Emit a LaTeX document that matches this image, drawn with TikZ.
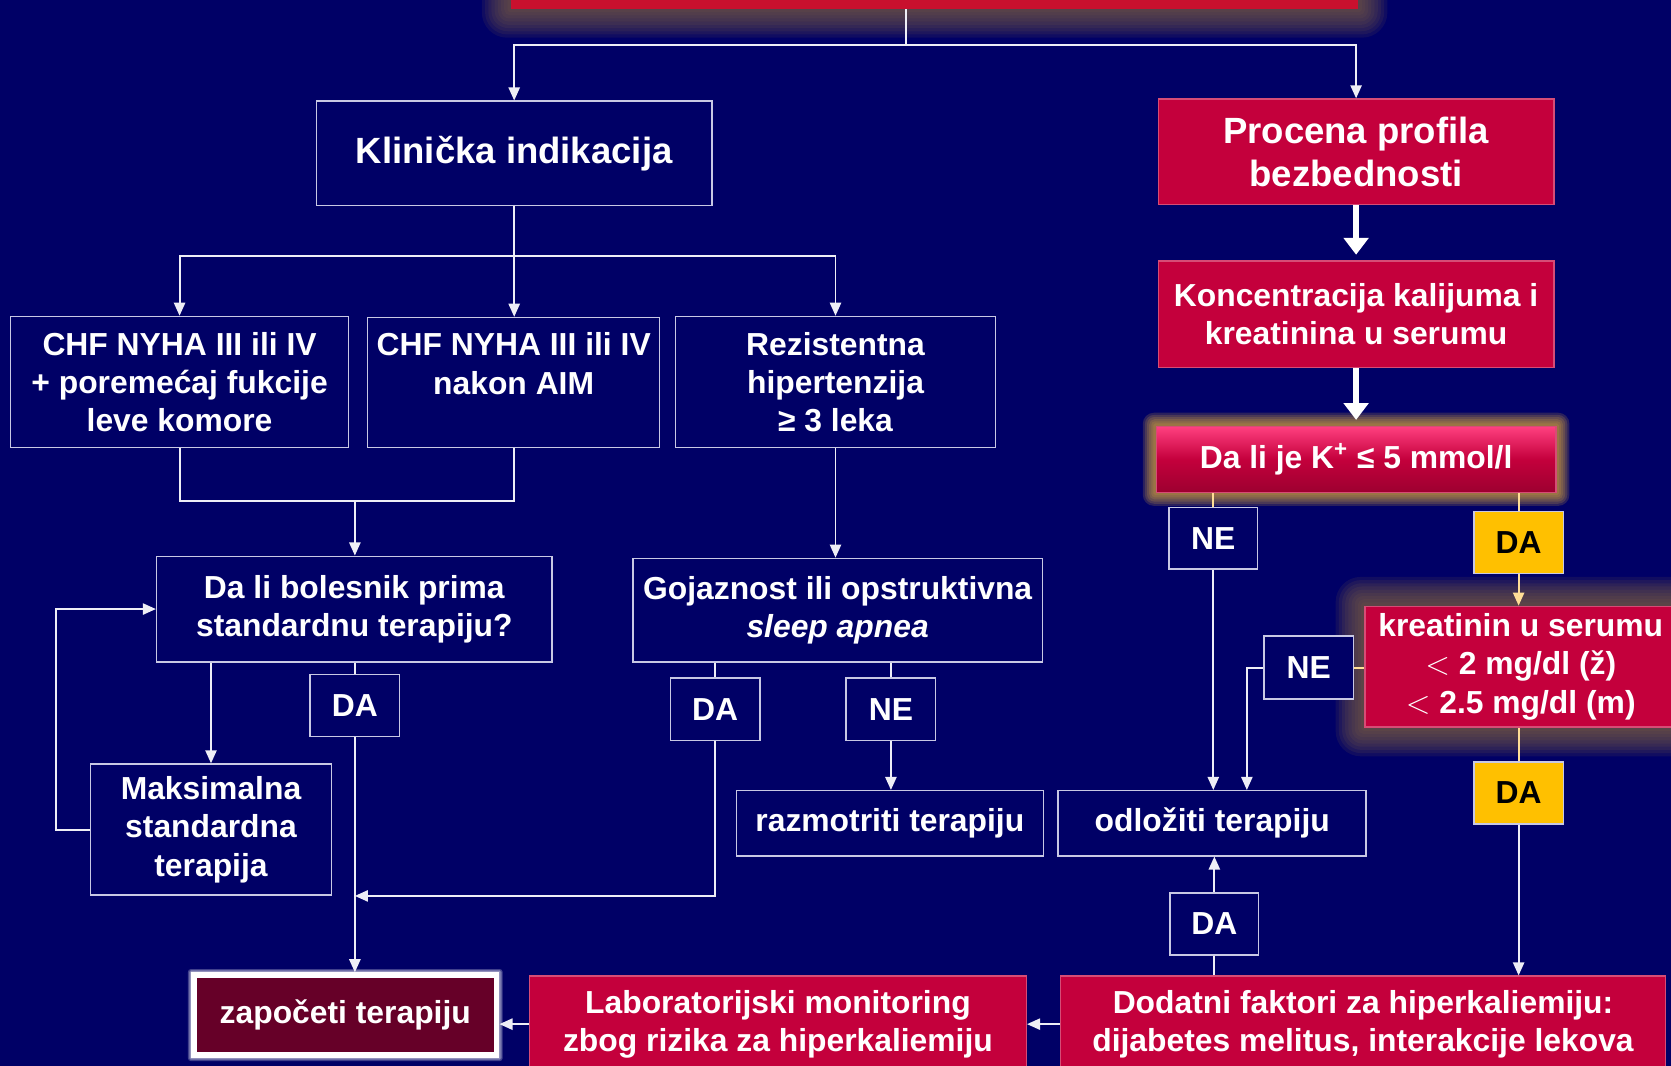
\documentclass[tikz,border=0pt]{standalone}
\usepackage{fontspec}
\setmainfont{Liberation Sans}
\usetikzlibrary{arrows.meta}

\definecolor{bgColor}{RGB}{0,0,102}
\definecolor{boxColor}{RGB}{196,0,60}
\definecolor{titleColor}{RGB}{200,16,46}
\definecolor{lineColor}{RGB}{238,238,246}
\definecolor{frameColor}{RGB}{200,200,228}
\definecolor{goldLine}{RGB}{255,222,150}
\definecolor{yesColor}{RGB}{255,192,0}
\definecolor{startColor}{RGB}{102,0,40}
\definecolor{glowGold}{RGB}{210,160,60}
\definecolor{glowBrown}{RGB}{125,95,65}
\definecolor{pinkTop}{RGB}{255,64,128}

\pgfdeclarelayer{bg}
\pgfsetlayers{bg,main}

\tikzset{
  box/.style={draw=frameColor, line width=0.8pt, fill=bgColor, text=white, align=center,
    inner sep=0pt, font=\bfseries\fontsize{17}{20.5}\selectfont},
  redbox/.style={box, fill=boxColor, draw=boxColor!70!white},
  bigfont/.style={font=\bfseries\fontsize{19.5}{23.3}\selectfont},
  boxdim/.style 2 args={minimum width=#1*0.02cm, minimum height=#2*0.02cm},
  wire/.style={draw=lineColor, line width=1pt},
  arr/.style={wire, -{Triangle[length=7pt,width=6pt]}},
  goldwire/.style={draw=goldLine, line width=1pt},
  goldarr/.style={goldwire, -{Triangle[length=7pt,width=6pt]}},
  bigarr/.style={draw=white, line width=3.5pt, shorten >=3pt, -{Triangle[length=9pt,width=13pt]}},
}

\begin{document}
\begin{tikzpicture}[x=0.02cm, y=-0.02cm]
  \useasboundingbox (0,0) rectangle (1568,1000);
  % Title bar (cut off)
  \node[boxdim={795}{40}, fill=titleColor] (title) at (877,-12) {};
  % Left branch
  \node[box, boxdim={371}{98}, bigfont] (klin) at (482.5,144) {Klinička indikacija};
  \node[box, boxdim={317}{123}] (chf1) at (168.5,358.5) {CHF NYHA III ili IV\\+ poremećaj fukcije\\leve komore};
  \node[box, boxdim={274}{122}] (chf2) at (482,359) {CHF NYHA III ili IV\\nakon AIM\\~};
  \node[box, boxdim={300}{123}] (rez) at (784,358.5) {Rezistentna\\hipertenzija\\≥ 3 leka};
  \node[box, boxdim={371}{99}] (dali) at (332.5,571.5) {Da li bolesnik prima\\standardnu terapiju?};
  \node[box, boxdim={384}{97}] (goj) at (786,572.5) {Gojaznost ili opstruktivna\\\textit{sleep apnea}};
  \node[box, boxdim={226}{123}] (maks) at (198,778.5) {Maksimalna\\standardna\\terapija};
  \node[box, boxdim={84}{58}] (da1) at (333,662) {DA};
  \node[box, boxdim={84}{59}] (da2) at (671,665.5) {DA};
  \node[box, boxdim={84}{59}] (ne1) at (836,665.5) {NE};
  \node[box, boxdim={288}{61}] (razm) at (835,772.5) {razmotriti terapiju};
  \node[box, boxdim={289}{61}] (odl) at (1137.5,772.5) {odložiti terapiju};
  % Right branch
  \node[redbox, boxdim={371}{99}, bigfont] (proc) at (1272.5,142.5) {Procena profila\\bezbednosti};
  \node[redbox, boxdim={371}{100}] (konc) at (1272.5,295) {Koncentracija kalijuma i\\kreatinina u serumu};
  \node[redbox, boxdim={375}{62}, top color=pinkTop, bottom color=boxColor!80!black, middle color=boxColor] (kq) at (1272.5,431) {Da li je K\textsuperscript{+} ≤ 5 mmol/l};
  \node[box, boxdim={83}{58}] (neK) at (1138.5,505) {NE};
  \node[box, boxdim={84}{58}, fill=yesColor, text=black] (daK) at (1425,509) {DA};
  \node[redbox, boxdim={292}{113}] (krea) at (1427,625.5) {kreatinin u serumu\\$<$ 2 mg/dl (ž)\\$<$ 2.5 mg/dl (m)};
  \node[box, boxdim={84}{59}] (neC) at (1228,626.5) {NE};
  \node[box, boxdim={84}{58}, fill=yesColor, text=black] (daC) at (1425,744) {DA};
  \node[box, boxdim={83}{58}] (daD) at (1139.5,867) {DA};
  % Bottom row
  \node[redbox, boxdim={568}{90}] (dod) at (1279,961) {Dodatni faktori za hiperkaliemiju:\\dijabetes melitus, interakcije lekova};
  \node[redbox, boxdim={466}{90}] (lab) at (730,961) {Laboratorijski monitoring\\zbog rizika za hiperkaliemiju};
  \node[box, boxdim={284}{75}, fill=startColor, draw=white, line width=3pt] (zap) at (324,952.5) {započeti terapiju};

  % Top split
  \coordinate (split) at (850,42);
  \draw[wire] (title.south -| split) -- (split);
  \draw[arr] (split) -| (klin.north);
  \draw[arr] (split) -| (proc.north);
  % Clinical indication
  \coordinate (fork) at (482.5,240);
  \draw[wire] (klin.south) -- (fork);
  \draw[arr] (fork) -| (chf1.north);
  \draw[arr] (fork) -- (fork |- chf2.north);
  \draw[arr] (fork) -| (rez.north);
  \coordinate (join) at (333,470);
  \draw[wire] (chf1.south) |- (join) -| (chf2.south);
  \draw[arr] (join) -- (join |- dali.north);
  \draw[arr] (rez.south) -- (rez.south |- goj.north);
  % Standard therapy
  \draw[arr] (dali.south -| maks.north) -- (maks.north);
  \draw[arr] (maks.west) -- ++(-32,0) |- (dali.west);
  \draw[wire] (dali.south -| da1.north) -- (da1.north);
  \draw[arr] (da1.south) -- (da1.south |- zap.north);
  \draw[wire] (goj.south -| da2.north) -- (da2.north);
  \draw[arr] (da2.south) |- (da1.south |- maks.south);
  \draw[wire] (goj.south -| ne1.north) -- (ne1.north);
  \draw[arr] (ne1.south) -- (ne1.south |- razm.north);
  % Safety profile
  \draw[bigarr] (proc.south) -- (konc.north);
  \draw[bigarr] (konc.south) -- (kq.north);
  \draw[goldwire] (kq.south -| neK.north) -- (neK.north);
  \draw[arr] (neK.south) -- (neK.south |- odl.north);
  \draw[goldwire] (kq.south -| daK.north) -- (daK.north);
  \draw[goldarr] (daK.south) -- (daK.south |- krea.north);
  \draw[goldwire] (neC.east) -- (neC.east -| krea.west);
  \coordinate (bend) at (1170,626.5);
  \draw[arr] (neC.west) -- (bend) -- (bend |- odl.north);
  \draw[goldwire] (krea.south -| daC.north) -- (daC.north);
  \draw[arr] (daC.south) -- (daC.south |- dod.north);
  \draw[wire] (dod.north -| daD.south) -- (daD.south);
  \draw[arr] (daD.north) -- (daD.north |- odl.south);
  \draw[arr] (dod.west) -- (lab.east);
  \draw[arr] (lab.west) -- (lab.west -| zap.east);

  % Background and glows
  \begin{pgfonlayer}{bg}
    \fill[bgColor] (0,0) rectangle (1568,1000);
    \foreach \g in {3,6,...,27}
      \fill[glowBrown, opacity=0.13, rounded corners=\g*0.5pt] ([shift={(-\g,\g)}]title.south west) rectangle ([shift={(\g,-\g)}]title.north east);
    \foreach \g in {2,4,...,12}
      \fill[glowGold, opacity=0.2, rounded corners=\g*0.5pt] ([shift={(-\g,\g)}]kq.south west) rectangle ([shift={(\g,-\g)}]kq.north east);
    \foreach \g in {3,6,...,27}
      \fill[glowBrown, opacity=0.14, rounded corners=\g*0.5pt] ([shift={(-\g,\g)}]krea.south west) rectangle ([shift={(\g,-\g)}]krea.north east);
    \foreach \g in {1,2,3}
      \fill[white, opacity=0.25, rounded corners=\g*0.5pt] ([shift={(-\g,\g)}]zap.south west) rectangle ([shift={(\g,-\g)}]zap.north east);
  \end{pgfonlayer}
\end{tikzpicture}
\end{document}
